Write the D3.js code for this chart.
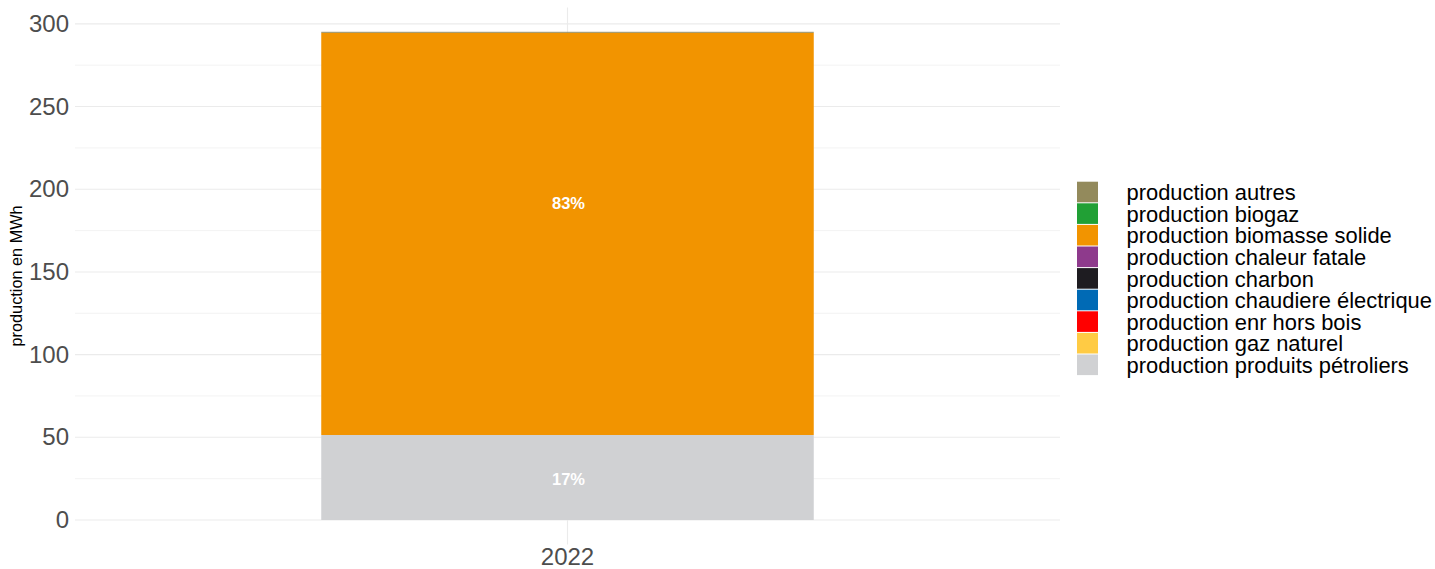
<!DOCTYPE html>
<html><head><meta charset="utf-8">
<script src="https://cdn.jsdelivr.net/npm/d3@7"></script>
<style>body{margin:0;background:#fff}svg{display:block;font-family:"Liberation Sans",Arial,sans-serif}</style>
</head><body>
<svg id="c" width="1435" height="569"></svg>
<script>
const years = ["2022"];
const categories = ["production autres","production biogaz","production biomasse solide","production chaleur fatale","production charbon","production chaudiere électrique","production enr hors bois","production gaz naturel","production produits pétroliers"];
const colors = ["#938A5C","#21A035","#F29400","#8E3A8C","#1E1C21","#006AB5","#FF0000","#FFCB44","#D0D1D3"];
// values for 2022, per category (MWh)
const values2022 = [0.6,0,243.2,0,0,0,0,0,51.4];
const pctLabels = ["","","83%","","","","","","17%"];
const labelAt = [null,null,191.5,null,null,null,null,null,24.5];
const yTicks = [0,50,100,150,200,250,300];
const yMinor = [25,75,125,175,225,275];

const svg = d3.select("#c");
const L = 75, R = 1060;
const total = d3.sum(values2022);
const y = d3.scaleLinear().domain([-0.05*total, total*1.05]).range([544.4, 7.4]);
const x = d3.scaleBand().domain(years).range([L, R]).paddingInner(0).paddingOuter(0);

const g = svg.append("g");
g.selectAll(".mn").data(yMinor).join("line")
  .attr("x1",L).attr("x2",R).attr("y1",d=>y(d)).attr("y2",d=>y(d))
  .attr("stroke","#f0f0f0").attr("stroke-width",0.8);
g.selectAll(".mj").data(yTicks).join("line")
  .attr("x1",L).attr("x2",R).attr("y1",d=>y(d)).attr("y2",d=>y(d))
  .attr("stroke","#ebebeb").attr("stroke-width",1.1);
g.selectAll(".vx").data(years).join("line")
  .attr("x1",d=>x(d)+x.bandwidth()/2).attr("x2",d=>x(d)+x.bandwidth()/2)
  .attr("y1",y.range()[1]).attr("y2",y.range()[0])
  .attr("stroke","#ebebeb").attr("stroke-width",1.1);

const barW = x.bandwidth()*0.5;
let cum = 0;
const segs = [];
for (let i = categories.length-1; i >= 0; i--) {
  segs.push({i, y0:cum, y1:cum+values2022[i]});
  cum += values2022[i];
}
const bx = x("2022") + x.bandwidth()/2 - barW/2;
g.selectAll(".bar").data(segs.filter(s=>s.y1>s.y0)).join("rect")
  .attr("x",bx).attr("width",barW)
  .attr("y",d=>y(d.y1)).attr("height",d=>y(d.y0)-y(d.y1))
  .attr("fill",d=>colors[d.i]);

g.selectAll(".lab").data(categories.map((c,i)=>i).filter(i=>pctLabels[i])).join("text")
  .attr("x",x("2022")+x.bandwidth()/2+1).attr("y",i=>y(labelAt[i]))
  .attr("dy","0.35em").attr("text-anchor","middle")
  .attr("fill","#fff").attr("font-weight","bold").attr("font-size",16.5)
  .text(i=>pctLabels[i]);

const ya = d3.axisLeft(y).tickValues(yTicks).tickSize(0).tickPadding(0);
svg.append("g").attr("transform",`translate(${L-6},0)`).call(ya)
  .call(s=>s.select(".domain").remove())
  .selectAll("text").attr("font-size",24).attr("fill","#4d4d4d")
  .attr("font-family","Liberation Sans, Arial, sans-serif");
const xa = d3.axisBottom(x).tickSize(0).tickPadding(0);
svg.append("g").attr("transform",`translate(0,${y.range()[0]+4})`).call(xa)
  .call(s=>s.select(".domain").remove())
  .selectAll("text").attr("font-size",24).attr("fill","#4d4d4d")
  .attr("font-family","Liberation Sans, Arial, sans-serif");

svg.append("text").attr("transform",`translate(21.5,${(y.range()[0]+y.range()[1])/2}) rotate(-90)`)
  .attr("text-anchor","middle").attr("font-size",16.3).attr("fill","#000")
  .text("production en MWh");

const lg = svg.append("g").attr("transform","translate(1077,181.7)");
const rowH = 21.6;
categories.forEach((c,i)=>{
  lg.append("rect").attr("x",0).attr("y",i*rowH).attr("width",21).attr("height",rowH-1)
    .attr("fill",colors[i]);
  lg.append("text").attr("x",49.5).attr("y",i*rowH+rowH/2).attr("dy","0.35em")
    .attr("font-size",21.9).attr("fill","#000").text(c);
});
</script>
</body></html>
